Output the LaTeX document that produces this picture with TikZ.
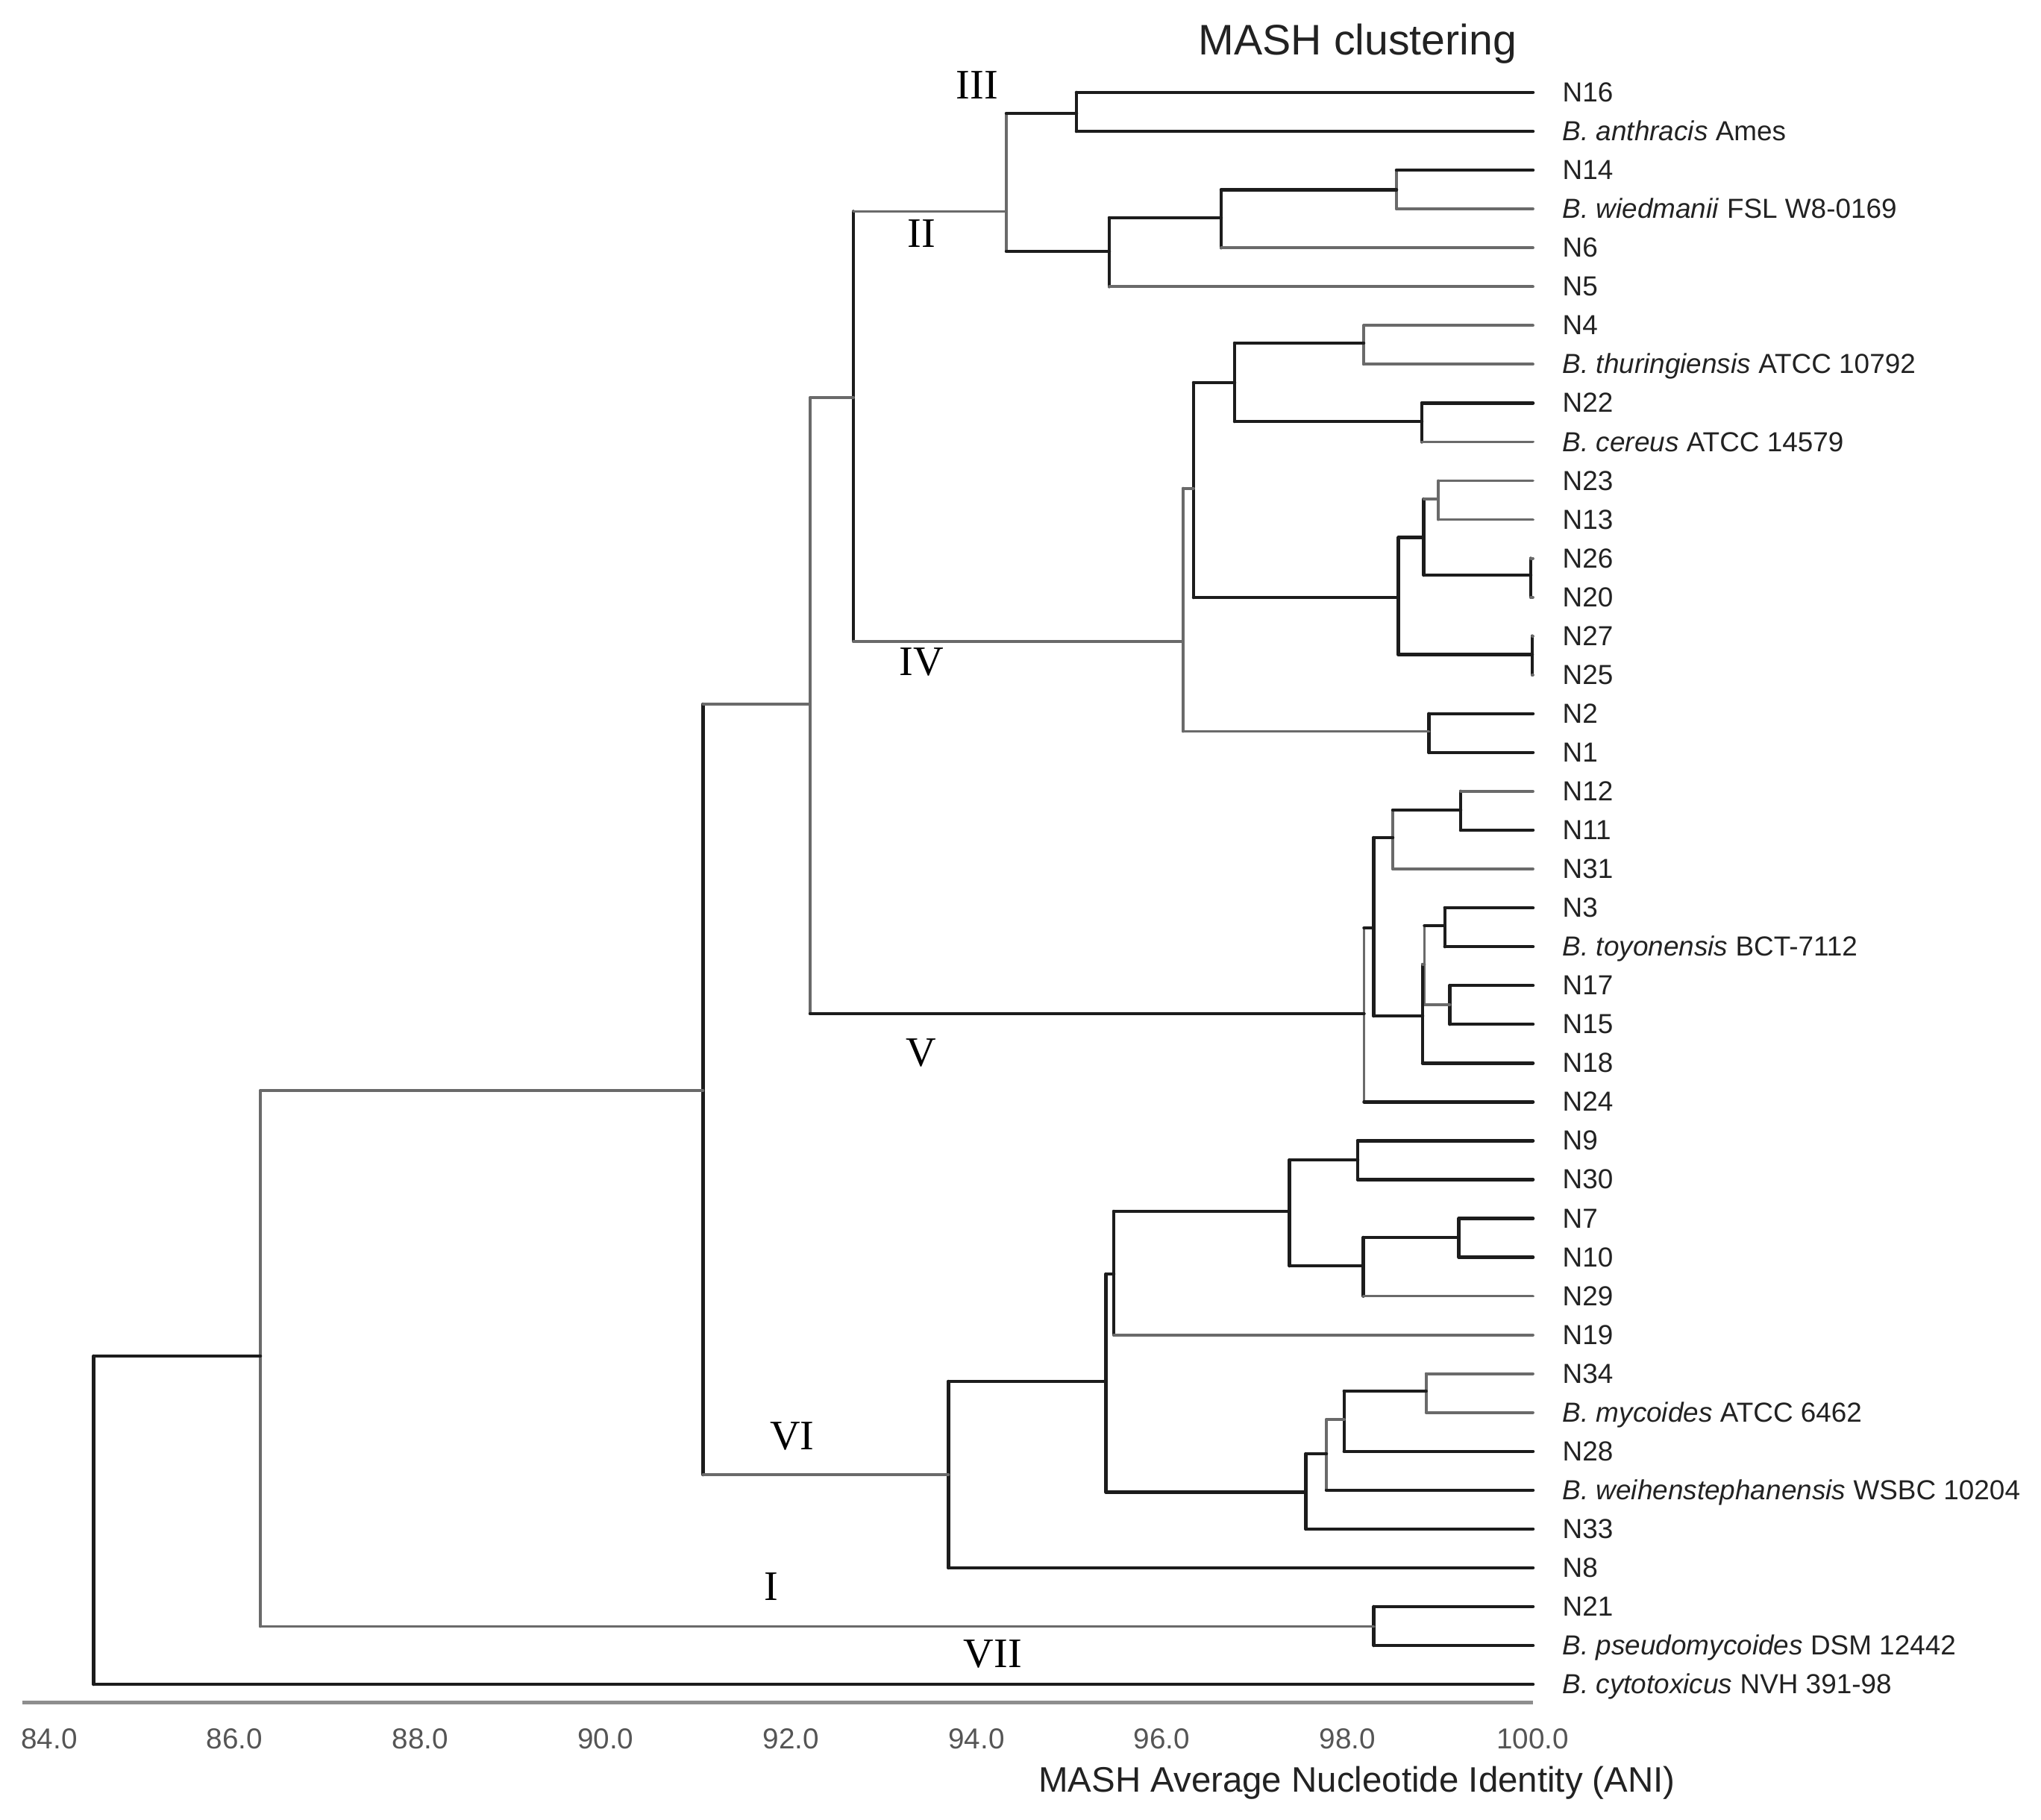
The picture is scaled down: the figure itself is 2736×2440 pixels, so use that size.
\documentclass[tikz,border=0pt]{standalone}
\usepackage{fontspec}
\setmainfont{Liberation Sans}
\newfontfamily\cladefont{Liberation Serif}
\usetikzlibrary{positioning}
\definecolor{branchdark}{HTML}{1C1C1C}
\definecolor{branchgrey}{HTML}{6A6A6A}
\definecolor{axisgrey}{HTML}{8E8E8E}
\definecolor{ticktext}{HTML}{555555}
\definecolor{leaftext}{HTML}{222222}

\begin{document}
\begin{tikzpicture}[
  x=0.1mm, y=-0.1mm,
  bdark/.style={draw=branchdark, line width=0.45mm, line cap=round},
  blight/.style={draw=branchgrey, line width=0.38mm, line cap=round},
  leaf/.style={
    anchor=west,
    inner xsep=3.9mm,
    inner ysep=0pt,
    text height=0.716em,
    text depth=0pt,
    text=leaftext,
    font=\fontsize{10.5}{12}\selectfont,
  },
  clade label/.style={
    inner sep=0pt,
    text height=0.662em,
    text depth=0pt,
    font=\cladefont\fontsize{16}{18}\selectfont,
  },
  tick label/.style={
    anchor=base,
    inner sep=0pt,
    text=ticktext,
    font=\fontsize{11}{13}\selectfont,
  },
  ]
  \useasboundingbox (0,0) rectangle (2736,2440);

  \node[anchor=base, inner sep=0pt, font=\fontsize{16.3}{19}\selectfont, text=leaftext]
  (title) at (1820,74) {MASH clustering};

  \foreach \leaf/\txt [count=\row from 0] in {
    N16/N16, Banth/{\textit{B. anthracis} Ames}, N14/N14,
    Bwied/{\textit{B. wiedmanii} FSL W8-0169}, N6/N6, N5/N5, N4/N4,
    Bthur/{\textit{B. thuringiensis} ATCC 10792}, N22/N22,
    Bcer/{\textit{B. cereus} ATCC 14579}, N23/N23, N13/N13, N26/N26,
    N20/N20, N27/N27, N25/N25, N2/N2, N1/N1, N12/N12, N11/N11,
    N31/N31, N3/N3, Btoy/{\textit{B. toyonensis} BCT-7112}, N17/N17,
    N15/N15, N18/N18, N24/N24, N9/N9, N30/N30, N7/N7, N10/N10,
    N29/N29, N19/N19, N34/N34, Bmyc/{\textit{B. mycoides} ATCC 6462},
    N28/N28, Bweih/{\textit{B. weihenstephanensis} WSBC 10204},
    N33/N33, N8/N8, N21/N21, Bpseu/{\textit{B. pseudomycoides} DSM 12442},
    Bcyto/{\textit{B. cytotoxicus} NVH 391-98}}
    \node[leaf] (\leaf) at (2055,{124+52.05*\row}) {\txt};

  \coordinate (a1) at (1443,152);
  \coordinate (a2) at (1872,254.5);
  \coordinate (a3) at (1637,292);
  \coordinate (a4) at (1487,337);
  \coordinate (a5) at (1349,283.5);
  \coordinate (b1) at (1828,460);
  \coordinate (b2) at (1906,565);
  \coordinate (b3) at (1655,513);
  \coordinate (c1) at (1928,669);
  \coordinate (c2) at (2052,771);
  \coordinate (c3) at (1908.6,720.7);
  \coordinate (c4) at (2054,877.6);
  \coordinate (c5) at (1874.6,801);
  \coordinate (b4) at (1600,654.6);
  \coordinate (c6) at (1915.5,980.5);
  \coordinate (b5) at (1586,859.6);
  \coordinate (a6) at (1144,533);
  \coordinate (d1) at (1958,1086);
  \coordinate (d2) at (1867,1123);
  \coordinate (d3) at (1936.8,1241);
  \coordinate (d4) at (1943.6,1347);
  \coordinate (d5) at (1909.5,1293);
  \coordinate (d6) at (1907,1362);
  \coordinate (d7) at (1841.3,1244);
  \coordinate (d8) at (1828.5,1359);
  \coordinate (a7) at (1086,944);
  \coordinate (e1) at (1820,1555);
  \coordinate (e2) at (1955.7,1659);
  \coordinate (e3) at (1827.5,1697);
  \coordinate (e4) at (1728.6,1624);
  \coordinate (e5) at (1493,1708);
  \coordinate (f1) at (1911.7,1865);
  \coordinate (f2) at (1801.8,1903);
  \coordinate (f3) at (1778,1949);
  \coordinate (f4) at (1750.5,2000.5);
  \coordinate (e6) at (1482.6,1852);
  \coordinate (e7) at (1271.4,1977);
  \coordinate (a8) at (942.4,1462);
  \coordinate (g1) at (1841.7,2180.5);
  \coordinate (a9) at (349,1818);
  \coordinate (root) at (125.6,2038);

  \foreach \pnt/\tch/\bch/\vst/\tst/\bst in {
    a1/N16.west/Banth.west/bdark/bdark/bdark,
    a2/N14.west/Bwied.west/blight/bdark/blight,
    a3/a2/N6.west/bdark/bdark/blight,
    a4/a3/N5.west/bdark/bdark/blight,
    a5/a1/a4/blight/bdark/bdark,
    b1/N4.west/Bthur.west/blight/blight/blight,
    b2/N22.west/Bcer.west/bdark/bdark/blight,
    b3/b1/b2/bdark/bdark/bdark,
    c1/N23.west/N13.west/blight/blight/blight,
    c2/N26.west/N20.west/bdark/blight/blight,
    c3/c1/c2/bdark/blight/bdark,
    c4/N27.west/N25.west/bdark/blight/blight,
    c5/c3/c4/bdark/bdark/bdark,
    b4/b3/c5/bdark/bdark/bdark,
    c6/N2.west/N1.west/bdark/bdark/bdark,
    b5/b4/c6/blight/blight/blight,
    a6/a5/b5/bdark/blight/blight,
    d1/N12.west/N11.west/bdark/blight/bdark,
    d2/d1/N31.west/blight/bdark/blight,
    d3/N3.west/Btoy.west/bdark/bdark/bdark,
    d4/N17.west/N15.west/bdark/bdark/bdark,
    d5/d3/d4/blight/bdark/blight,
    d6/d5/N18.west/bdark/blight/bdark,
    d7/d2/d6/bdark/bdark/bdark,
    d8/d7/N24.west/blight/bdark/bdark,
    a7/a6/d8/blight/blight/bdark,
    e1/N9.west/N30.west/bdark/bdark/bdark,
    e2/N7.west/N10.west/bdark/bdark/bdark,
    e3/e2/N29.west/bdark/bdark/blight,
    e4/e1/e3/bdark/bdark/bdark,
    e5/e4/N19.west/bdark/bdark/blight,
    f1/N34.west/Bmyc.west/blight/blight/blight,
    f2/f1/N28.west/bdark/bdark/bdark,
    f3/f2/Bweih.west/blight/blight/bdark,
    f4/f3/N33.west/bdark/bdark/bdark,
    e6/e5/f4/bdark/bdark/bdark,
    e7/e6/N8.west/bdark/bdark/bdark,
    a8/a7/e7/bdark/blight/blight,
    g1/N21.west/Bpseu.west/bdark/bdark/bdark,
    a9/a8/g1/blight/blight/blight,
    root/a9/Bcyto.west/bdark/bdark/bdark}
  {
    \draw[\vst] (\tch -| \pnt) -- (\bch -| \pnt);
    \draw[\tst] (\tch -| \pnt) -- (\tch);
    \draw[\bst] (\bch -| \pnt) -- (\bch);
  }

  \node[clade label] (III) at (1310,121) {III};
  \node[clade label] (II) at (1235,320) {II};
  \node[clade label] (IV) at (1235,894) {IV};
  \node[clade label] (V) at (1235,1418) {V};
  \node[clade label] (VI) at (1062,1932) {VI};
  \node[clade label] (I) at (1034,2134) {I};
  \node[clade label] (VII) at (1331,2224) {VII};

  \coordinate (axis start) at (30,2282);
  \coordinate (axis end) at (2055,2282);
  \draw[draw=axisgrey, line width=0.5mm] (axis start) -- (axis end);
  \foreach \val [count=\k from 0] in {84.0,86.0,88.0,90.0,92.0,94.0,96.0,98.0,100.0}
    \node[tick label] (tick\k) at ({66+248.6*\k},2344) {\val};

  \node[anchor=base, inner sep=0pt, font=\fontsize{13.5}{16}\selectfont, text=leaftext]
  (axis title) at (1819,2402) {MASH Average Nucleotide Identity (ANI)};
\end{tikzpicture}
\end{document}
